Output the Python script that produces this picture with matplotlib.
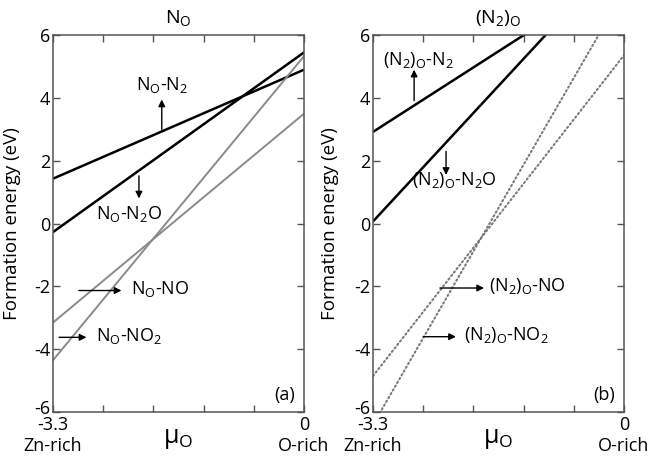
import numpy as np
import matplotlib
matplotlib.use("Agg")
import matplotlib.pyplot as plt
from matplotlib.ticker import FixedLocator
from matplotlib.transforms import ScaledTranslation

plt.rcParams['font.family'] = ['Open Sans', 'DejaVu Sans']
plt.rcParams['mathtext.fontset'] = 'custom'
plt.rcParams['mathtext.rm'] = 'Open Sans'
plt.rcParams['mathtext.it'] = 'Open Sans'

# Oxygen chemical potential range (eV)
mu_range = [-3.3, 0.0]

# Panel (a): N_O formation energies at mu_O = -3.3 and mu_O = 0
a_N2 = [1.43, 4.90]
a_N2O = [-0.27, 5.45]
a_NO = [-3.15, 3.50]
a_NO2 = [-4.35, 5.33]

# Panel (b): (N2)_O formation energies at mu_O = -3.3 and mu_O = 0
b_N2 = [2.92, 8.05]
b_N2O = [0.07, 8.70]
b_NO = [-4.85, 5.36]
b_NO2 = [-6.40, 7.40]

yticks = [-6, -4, -2, 0, 2, 4, 6]
xtick_labels = ["-3.3\nZn-rich", "0\nO-rich"]

fig = plt.figure(figsize=(6.51, 4.62), dpi=100)
axA = fig.add_axes([0.0814, 0.108, 0.3856, 0.816])
axB = fig.add_axes([0.573, 0.108, 0.3856, 0.816])

black = dict(color='black', lw=1.8, solid_capstyle='butt')
gray = dict(color='#8a8a8a', lw=1.4)
dotted = dict(color='#7a7a7a', lw=1.5, linestyle=(0, (0.7, 1.4)), dash_capstyle='round')

axA.plot(mu_range, a_N2, **black)
axA.plot(mu_range, a_N2O, **black)
axA.plot(mu_range, a_NO, **gray)
axA.plot(mu_range, a_NO2, **gray)

axB.plot(mu_range, b_N2, **black)
axB.plot(mu_range, b_N2O, **black)
axB.plot(mu_range, b_NO, **dotted)
axB.plot(mu_range, b_NO2, **dotted)

for ax, ylab_x in ((axA, -0.128), (axB, -0.136)):
    ax.set_xlim(-3.3, 0)
    ax.set_ylim(-6, 6)
    ax.xaxis.set_major_locator(FixedLocator([-3.3, 0]))
    ax.xaxis.set_minor_locator(FixedLocator([-2.64, -1.98, -1.32, -0.66]))
    ax.set_xticklabels(xtick_labels)
    ax.set_yticks(yticks)
    ax.set_yticklabels([str(v) for v in yticks])
    ax.tick_params(which='both', direction='in', top=True, right=True,
                   length=5, width=1.0, color='#555555', labelsize=13, pad=2)
    ax.tick_params(axis='x', labelsize=13, pad=3)
    for s in ax.spines.values():
        s.set_color('#555555')
        s.set_linewidth(1.1)
    ax.set_ylabel('Formation energy (eV)', fontsize=13.5)
    ax.yaxis.set_label_coords(ylab_x, 0.5)
    ax.set_xlabel(r'$\mathregular{\mu_O}$', fontsize=18, labelpad=-21)
    for lbl in ax.get_xticklabels():
        lbl.set_multialignment('center')
    # lift the lowest y label slightly so it clears the x label below it
    low = ax.get_yticklabels()[0]
    low.set_transform(low.get_transform() + ScaledTranslation(0, 4 / 72, fig.dpi_scale_trans))

axA.set_title(r'N$_\mathregular{O}$', fontsize=14, pad=9)
axB.set_title(r'(N$_\mathregular{2}$)$_\mathregular{O}$', fontsize=14, pad=9)

arrow = dict(arrowstyle='-|>', color='black', lw=1.0, mutation_scale=10, shrinkA=0, shrinkB=0)
fs = 13

# Panel (a) labels
axA.text(-1.87, 4.42, r'N$_\mathregular{O}$-N$_\mathregular{2}$', fontsize=fs, ha='center', va='center')
axA.annotate('', xy=(-1.87, 3.95), xytext=(-1.87, 3.0), arrowprops=arrow)
axA.text(-2.30, 0.32, r'N$_\mathregular{O}$-N$_\mathregular{2}$O', fontsize=fs, ha='center', va='center')
axA.annotate('', xy=(-2.17, 0.80), xytext=(-2.17, 1.52), arrowprops=arrow)
axA.annotate('', xy=(-2.40, -2.13), xytext=(-2.96, -2.13), arrowprops=arrow)
axA.text(-2.27, -2.08, r'N$_\mathregular{O}$-NO', fontsize=fs, ha='left', va='center')
axA.annotate('', xy=(-2.86, -3.62), xytext=(-3.22, -3.62), arrowprops=arrow)
axA.text(-2.73, -3.57, r'N$_\mathregular{O}$-NO$_\mathregular{2}$', fontsize=fs, ha='left', va='center')
axA.text(-0.12, -5.45, '(a)', fontsize=13, ha='right', va='center')

# Panel (b) labels
axB.text(-3.17, 5.22, r'(N$_\mathregular{2}$)$_\mathregular{O}$-N$_\mathregular{2}$', fontsize=fs, ha='left', va='center')
axB.annotate('', xy=(-2.76, 4.9), xytext=(-2.76, 3.92), arrowprops=arrow)
axB.text(-2.79, 1.38, r'(N$_\mathregular{2}$)$_\mathregular{O}$-N$_\mathregular{2}$O', fontsize=fs, ha='left', va='center')
axB.annotate('', xy=(-2.34, 1.55), xytext=(-2.34, 2.3), arrowprops=arrow)
axB.annotate('', xy=(-1.84, -2.05), xytext=(-2.42, -2.05), arrowprops=arrow)
axB.text(-1.77, -2.0, r'(N$_\mathregular{2}$)$_\mathregular{O}$-NO', fontsize=fs, ha='left', va='center')
axB.annotate('', xy=(-2.21, -3.6), xytext=(-2.64, -3.6), arrowprops=arrow)
axB.text(-2.10, -3.55, r'(N$_\mathregular{2}$)$_\mathregular{O}$-NO$_\mathregular{2}$', fontsize=fs, ha='left', va='center')
axB.text(-0.12, -5.45, '(b)', fontsize=13, ha='right', va='center')

fig.savefig('out.png', dpi=100)
